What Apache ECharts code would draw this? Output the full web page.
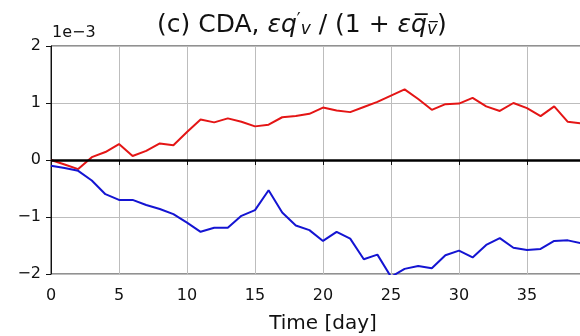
<!DOCTYPE html>
<html>
<head>
<meta charset="utf-8">
<script src="https://cdn.jsdelivr.net/npm/echarts@6/dist/echarts.min.js"></script>
<style>
  html, body { margin: 0; padding: 0; background: #fff; }
  #chart { width: 580px; height: 336px; }
</style>
</head>
<body>
<div id="chart"></div>
<script>
  // days and values (x 1e-3)
  const days = [0, 1, 2, 3, 4, 5, 6, 7, 8, 9, 10, 11, 12, 13, 14, 15, 16, 17, 18, 19,
    20, 21, 22, 23, 24, 25, 26, 27, 28, 29, 30, 31, 32, 33, 34, 35, 36, 37, 38, 39, 40];
  const redVals = [0.0, -0.08, -0.16, 0.05, 0.14, 0.28, 0.07, 0.16, 0.29, 0.26, 0.49,
    0.71, 0.66, 0.73, 0.67, 0.59, 0.62, 0.75, 0.77, 0.81, 0.92, 0.87, 0.84, 0.93, 1.02,
    1.13, 1.24, 1.07, 0.88, 0.98, 0.99, 1.09, 0.94, 0.86, 1.0, 0.91, 0.77, 0.94, 0.67,
    0.64, 0.63];
  const blueVals = [-0.10, -0.14, -0.19, -0.36, -0.60, -0.70, -0.70, -0.79, -0.86, -0.95,
    -1.10, -1.26, -1.19, -1.19, -0.98, -0.88, -0.53, -0.92, -1.15, -1.23, -1.42, -1.26,
    -1.38, -1.74, -1.66, -2.05, -1.91, -1.86, -1.90, -1.67, -1.59, -1.71, -1.49, -1.37,
    -1.54, -1.58, -1.56, -1.42, -1.41, -1.46, -1.48];

  const chart = echarts.init(document.getElementById('chart'));
  const font = 'DejaVu Sans';

  const pairs = (vals) => days.map((d, i) => [d, vals[i]]);

  chart.setOption({
    animation: false,
    backgroundColor: '#fff',
    textStyle: { fontFamily: font },
    title: {
      text: '(c) CDA, {i|εq}{sup|′}{sub|v} / (1 + {i|ε}{i|q̅}{sub|v̅})',
      left: 152,
      top: 7,
      textStyle: {
        fontFamily: font,
        fontSize: 25,
        fontWeight: 'normal',
        color: '#111',
        rich: {
          i: { fontFamily: font, fontStyle: 'italic', fontSize: 25, color: '#111' },
          sup: { fontFamily: font, fontSize: 17, color: '#111', verticalAlign: 'top', padding: [0, 0, 9, 0] },
          sub: { fontFamily: font, fontStyle: 'italic', fontSize: 17, color: '#111', verticalAlign: 'bottom', padding: [9, 0, 0, 0] }
        }
      }
    },
    graphic: [{
      type: 'text',
      left: 52,
      top: 25,
      style: { text: '1e\u22123', fontFamily: font, fontSize: 16, fill: '#111' }
    }],
    grid: {
      left: 51,
      top: 46,
      width: 544,
      height: 228,
      show: true,
      borderColor: '#222',
      borderWidth: 1,
      outerBoundsMode: 'none',
      containLabel: false
    },
    xAxis: {
      type: 'value',
      min: 0,
      max: 40,
      interval: 5,
      name: 'Time [day]',
      nameLocation: 'middle',
      nameGap: 40,
      nameTextStyle: { fontFamily: font, fontSize: 20, color: '#111' },
      axisLine: { show: true, lineStyle: { color: '#111', width: 1 } },
      axisTick: { show: true, length: 5, lineStyle: { color: '#111' } },
      axisLabel: { fontFamily: font, fontSize: 16, color: '#111', margin: 14 },
      splitLine: { show: true, lineStyle: { color: '#bdbdbd', width: 1 } }
    },
    yAxis: {
      type: 'value',
      min: -2,
      max: 2,
      interval: 1,
      axisLine: { show: true, lineStyle: { color: '#111', width: 1 } },
      axisTick: { show: true, length: 5, lineStyle: { color: '#111' } },
      axisLabel: {
        fontFamily: font, fontSize: 16, color: '#111', margin: 10,
        formatter: (v) => String(v).replace('-', '\u2212')
      },
      splitLine: { show: true, lineStyle: { color: '#bdbdbd', width: 1 } }
    },
    series: [
      {
        type: 'line',
        data: pairs(redVals),
        showSymbol: false,
        lineStyle: { color: '#e41515', width: 2 },
        itemStyle: { color: '#e41515' },
        z: 3
      },
      {
        type: 'line',
        data: pairs(blueVals),
        showSymbol: false,
        lineStyle: { color: '#1414d2', width: 2 },
        itemStyle: { color: '#1414d2' },
        z: 3,
        markLine: {
          silent: true,
          symbol: 'none',
          label: { show: false },
          lineStyle: { color: '#000', width: 2.5, type: 'solid' },
          data: [{ yAxis: 0 }]
        }
      }
    ]
  });
</script>
</body>
</html>
